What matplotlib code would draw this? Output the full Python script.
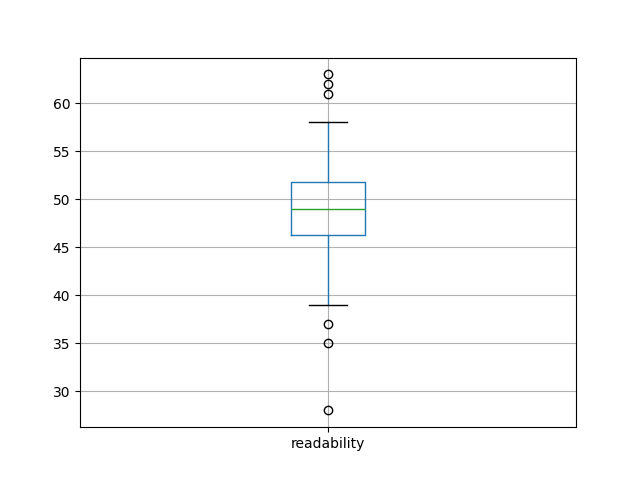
import matplotlib
matplotlib.use('Agg')
import matplotlib.pyplot as plt

label = 'readability'
q1 = 46.25
median = 49.0
q3 = 51.75
whisker_low = 39.0
whisker_high = 58.0
outliers = [28, 35, 37, 61, 62, 63]

stats = [{
  'label': label,
  'q1': q1,
  'med': median,
  'q3': q3,
  'whislo': whisker_low,
  'whishi': whisker_high,
  'fliers': outliers,
}]

fig, ax = plt.subplots(figsize=(6.4, 4.8), dpi=100)
ax.bxp(stats,
       boxprops={'color': '#1f77b4'},
       whiskerprops={'color': '#1f77b4'},
       medianprops={'color': '#2ca02c'},
       capprops={'color': 'k'},
       flierprops={'marker': 'o', 'markeredgecolor': 'k', 'markerfacecolor': 'none'})
ax.grid(True)
fig.savefig('out.png')
